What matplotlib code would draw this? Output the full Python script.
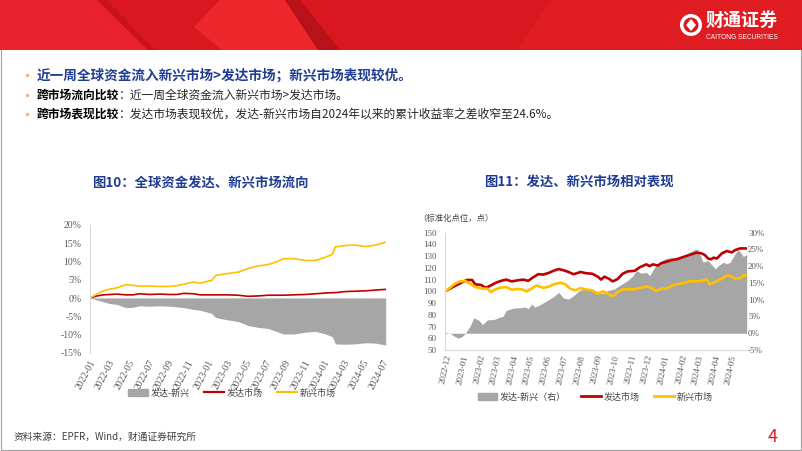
import matplotlib
matplotlib.use("Agg")
import matplotlib.pyplot as plt
import matplotlib.dates as mdates
import matplotlib.patches as mpatches
from matplotlib.lines import Line2D
from matplotlib.ticker import FuncFormatter
import pandas as pd

plt.rcParams['font.family'] = ['Noto Sans CJK SC', 'DejaVu Sans']

# ---- 图10: 全球资金发达、新兴市场流向 (累计流入, %) ----
flow_dates = pd.to_datetime([
    "2022-01-01", "2022-01-22", "2022-02-12", "2022-03-05", "2022-03-25", "2022-04-24",
    "2022-05-15", "2022-06-05", "2022-07-05", "2022-08-07", "2022-09-05", "2022-09-29",
    "2022-10-20", "2022-11-20", "2022-12-10", "2023-01-01", "2023-01-15", "2023-01-28",
    "2023-03-03", "2023-04-08", "2023-05-09", "2023-06-09", "2023-07-11", "2023-08-05",
    "2023-08-27", "2023-09-28", "2023-11-03", "2023-12-05", "2024-01-06", "2024-01-27",
    "2024-02-05", "2024-03-07", "2024-04-08", "2024-05-09", "2024-06-09", "2024-07-11",
])
flow_em = [0.0, 1.1, 2.0, 2.5, 2.8, 3.7, 3.5, 3.3, 3.3, 3.2, 3.2, 3.4,
           3.8, 4.4, 4.1, 4.6, 4.8, 6.2, 6.7, 7.1, 8.1, 8.8, 9.2, 9.9,
           10.8, 10.8, 10.3, 10.3, 11.2, 12.0, 14.0, 14.4, 14.5, 14.1, 14.5, 15.3]
flow_dm = [0.0, 0.6, 0.9, 1.0, 1.1, 0.9, 0.9, 1.2, 1.0, 1.1, 1.0, 1.0,
           1.3, 1.2, 0.9, 0.9, 0.9, 0.9, 0.9, 0.8, 0.5, 0.6, 0.8, 0.8,
           0.8, 0.9, 1.0, 1.2, 1.4, 1.5, 1.5, 1.8, 1.9, 2.0, 2.2, 2.4]
flow_diff = [0.0, -0.5, -1.0, -1.5, -1.7, -2.6, -2.5, -2.1, -2.2, -2.1, -2.2, -2.4,
             -2.6, -3.1, -3.3, -3.8, -4.2, -5.3, -5.9, -6.4, -7.5, -8.0, -8.3, -9.1,
             -9.8, -9.8, -9.3, -9.1, -9.8, -10.6, -12.5, -12.6, -12.5, -12.2, -12.3, -12.8]

# ---- 图11: 发达、新兴市场相对表现 ----
dm_dates = pd.to_datetime([
    "2022-12-01", "2022-12-13", "2022-12-25", "2023-01-04", "2023-01-10", "2023-01-19",
    "2023-01-25", "2023-02-04", "2023-02-13", "2023-02-22", "2023-03-04", "2023-03-13",
    "2023-03-22", "2023-04-01", "2023-04-13", "2023-04-22", "2023-05-01", "2023-05-10",
    "2023-05-19", "2023-05-28", "2023-06-07", "2023-06-16", "2023-06-25", "2023-07-04",
    "2023-07-13", "2023-07-22", "2023-08-04", "2023-08-13", "2023-08-25", "2023-09-04",
    "2023-09-10", "2023-09-16", "2023-09-25", "2023-10-01", "2023-10-10", "2023-10-19",
    "2023-10-28", "2023-11-10", "2023-11-19", "2023-12-01", "2023-12-07", "2023-12-13",
    "2023-12-22", "2023-12-28", "2024-01-07", "2024-01-16", "2024-01-25", "2024-02-04",
    "2024-02-13", "2024-02-22", "2024-03-01", "2024-03-10", "2024-03-16", "2024-03-22",
    "2024-03-27", "2024-04-01", "2024-04-07", "2024-04-16", "2024-04-25", "2024-05-04",
    "2024-05-10", "2024-05-19", "2024-05-31",
])
dm_index = [100, 103.1, 106, 108.5, 109.7, 109.7, 106, 105.5, 103, 105, 107.5, 109,
            110, 108.5, 109.5, 110, 109, 112, 114.6, 114.3, 115.7, 117.6, 119, 118,
            116.5, 114.6, 116.5, 115.5, 115, 112.5, 110, 112.5, 110.5, 108.5, 110.5, 115,
            117, 117.5, 120.5, 123, 121.5, 123, 122, 124, 125.3, 126.7, 127.3, 129,
            130.4, 131.8, 133, 132.4, 131, 128, 127.3, 128.7, 128, 132.4, 134.4, 133.2,
            135.2, 136.6, 136.6]

em_dates = pd.to_datetime([
    "2022-12-01", "2022-12-10", "2022-12-19", "2022-12-28", "2023-01-07", "2023-01-16",
    "2023-01-25", "2023-02-07", "2023-02-16", "2023-02-22", "2023-03-01", "2023-03-10",
    "2023-03-22", "2023-04-01", "2023-04-10", "2023-04-19", "2023-04-28", "2023-05-07",
    "2023-05-16", "2023-05-28", "2023-06-07", "2023-06-16", "2023-06-28", "2023-07-07",
    "2023-07-16", "2023-07-25", "2023-08-04", "2023-08-13", "2023-08-25", "2023-09-04",
    "2023-09-13", "2023-09-22", "2023-10-01", "2023-10-10", "2023-10-19", "2023-10-28",
    "2023-11-10", "2023-11-19", "2023-12-01", "2023-12-10", "2023-12-19", "2023-12-28",
    "2024-01-07", "2024-01-16", "2024-01-25", "2024-02-07", "2024-02-19", "2024-02-28",
    "2024-03-10", "2024-03-19", "2024-03-25", "2024-04-04", "2024-04-16", "2024-04-25",
    "2024-05-01", "2024-05-10", "2024-05-19", "2024-05-25", "2024-05-31",
])
em_index = [100, 103, 106.5, 108.5, 108.8, 106.5, 103.7, 102.3, 102.3, 99.4, 101.4, 103,
            103.7, 101.4, 102, 101.7, 100, 102.3, 105, 103, 104, 106, 107.4, 106,
            102.3, 100.8, 102.8, 101.7, 100.8, 98, 100, 98, 95.7, 99.4, 101.7, 101.7,
            101.7, 102.8, 104.3, 103, 100.3, 102.3, 102.3, 104.8, 106, 107, 108.8, 108.5,
            108.8, 110.2, 106, 108, 110.8, 113.4, 113.4, 110.8, 111, 113.6, 113.5]

gap_dates = pd.to_datetime([
    "2022-12-01", "2022-12-10", "2022-12-16", "2022-12-25", "2023-01-01", "2023-01-07",
    "2023-01-16", "2023-01-22", "2023-02-01", "2023-02-07", "2023-02-16", "2023-02-28",
    "2023-03-10", "2023-03-16", "2023-03-22", "2023-04-04", "2023-04-16", "2023-04-25",
    "2023-05-01", "2023-05-07", "2023-05-13", "2023-05-22", "2023-06-04", "2023-06-16",
    "2023-06-25", "2023-07-04", "2023-07-13", "2023-07-22", "2023-08-01", "2023-08-10",
    "2023-08-22", "2023-09-04", "2023-09-13", "2023-09-22", "2023-10-04", "2023-10-16",
    "2023-10-28", "2023-11-07", "2023-11-13", "2023-11-22", "2023-12-01", "2023-12-07",
    "2023-12-16", "2023-12-25", "2024-01-04", "2024-01-16", "2024-01-28", "2024-02-07",
    "2024-02-19", "2024-02-28", "2024-03-04", "2024-03-13", "2024-03-22", "2024-04-04",
    "2024-04-10", "2024-04-19", "2024-04-25", "2024-05-01", "2024-05-10", "2024-05-16",
    "2024-05-25", "2024-05-31",
])
gap_pct = [0.3, 0, -0.7, -1.5, -1.0, 0, 2.3, 4.6, 3.8, 2.6, 4.0, 4.1,
           4.8, 5.0, 6.8, 7.5, 7.6, 7.8, 7.3, 8.7, 7.8, 8.5, 9.7, 10.9,
           12.2, 10.5, 10.2, 11.2, 12.7, 13.2, 12.7, 12.2, 11.9, 12.7, 13.2, 14.5,
           15.7, 17.2, 18.7, 17.9, 18.2, 17.2, 19.7, 21.2, 22.2, 22.5, 22.2, 23.2,
           24.2, 25.1, 24.9, 21.2, 21.7, 19.2, 20.2, 21.2, 20.7, 21.2, 23.7, 24.9,
           22.9, 23.5]

RED = '#c00000'
YELLOW = '#ffc000'
GRAY = '#a6a6a6'
BLUE = '#1f3c93'
TICK = '#595959'
SPINE = '#d9d9d9'

W, H = 802, 451
fig = plt.figure(figsize=(W / 100, H / 100), dpi=100)

# background layer in pixel coordinates
bg = fig.add_axes([0, 0, 1, 1], zorder=-5)
bg.set_xlim(0, W)
bg.set_ylim(H, 0)
bg.axis('off')

banner = [
    ([(0, 0), (802, 0), (802, 50), (0, 50)], '#d9171e'),
    ([(0, 0), (97, 0), (148, 50), (0, 50)], '#e8222a'),
    ([(97, 0), (106, 0), (156, 50), (148, 50)], '#c91219'),
    ([(194, 27), (220, 0), (285, 0), (318, 50), (222, 50)], '#ee272c'),
    ([(285, 0), (300, 0), (340, 50), (318, 50)], '#b8111a'),
    ([(550, 0), (802, 0), (802, 50), (517, 50)], '#de1c22'),
]
for pts, c in banner:
    bg.add_patch(mpatches.Polygon(pts, closed=True, color=c, lw=0))

# logo
bg.add_patch(mpatches.Circle((691, 25), 11, color='white', lw=0))
bg.add_patch(mpatches.Circle((691, 25), 7.5, color='#d9171e', lw=0))
bg.add_patch(mpatches.Polygon([(691, 19), (696, 25), (691, 31), (686, 25)], color='white', lw=0))
bg.text(706, 20, "财通证券", color='white', fontsize=13, fontweight='bold', va='center', ha='left')
bg.text(706, 37.5, "CAITONG SECURITIES", color='white', fontsize=4.8, va='center', ha='left',
        family='Liberation Sans')

# slide frame
bg.plot([0.5, 0.5, 801, 801], [50, 450, 450, 50], color='#a0a0a0', lw=0.8)

# bullet lines
for yy in [75, 95, 114]:
    bg.plot(27, yy, 'o', ms=2.5, color='#f4b183', mec='none')
bg.text(37, 75, "近一周全球资金流入新兴市场>发达市场；新兴市场表现较优。", color=BLUE,
        fontsize=9.8, fontweight='bold', va='center', ha='left')

fig.canvas.draw()
renderer = fig.canvas.get_renderer()
inv = bg.transData.inverted()
for yy, head, rest in [
    (95, "跨市场流向比较", "：近一周全球资金流入新兴市场>发达市场。"),
    (114, "跨市场表现比较", "：发达市场表现较优，发达-新兴市场自2024年以来的累计收益率之差收窄至24.6%。"),
]:
    t = bg.text(37, yy, head, color='black', fontsize=8.5, fontweight='bold', va='center', ha='left')
    ext = t.get_window_extent(renderer)
    x_end = inv.transform((ext.x1, ext.y0))[0]
    bg.text(x_end, yy, rest, color='#262626', fontsize=8.5, va='center', ha='left')

# chart titles
bg.text(200, 183, "图10：全球资金发达、新兴市场流向", color=BLUE, fontsize=9.6,
        fontweight='bold', va='center', ha='center')
bg.text(579, 182, "图11：发达、新兴市场相对表现", color=BLUE, fontsize=9.6,
        fontweight='bold', va='center', ha='center')
bg.text(418, 218, "（标准化点位，点）", color='#404040', fontsize=6, va='center', ha='left')

# footer
bg.text(14, 437, "资料来源：EPFR，Wind，财通证券研究所", color='#404040', fontsize=7, va='center', ha='left')
bg.text(773, 437, "4", color='#e0161d', fontsize=13, va='center', ha='center')

pct = FuncFormatter(lambda v, p: f"{v:.0f}%")

# ---- left chart ----
ax1 = fig.add_axes([90 / W, 1 - 353 / H, 296 / W, 128 / H])
ax1.fill_between(flow_dates, flow_diff, 0, color=GRAY, lw=0)
ax1.plot(flow_dates, flow_dm, color=RED, lw=1.2)
ax1.plot(flow_dates, flow_em, color=YELLOW, lw=1.2)
ax1.set_ylim(-15, 20)
ax1.set_yticks(range(-15, 21, 5))
ax1.yaxis.set_major_formatter(pct)
ax1.set_xlim(pd.Timestamp("2022-01-01"), pd.Timestamp("2024-07-12"))
ax1.xaxis.set_major_locator(mdates.MonthLocator(bymonth=[1, 3, 5, 7, 9, 11]))
ax1.xaxis.set_major_formatter(mdates.DateFormatter('%Y-%m'))
for s in ['top', 'right', 'bottom']:
    ax1.spines[s].set_visible(False)
ax1.spines['left'].set_color(SPINE)
ax1.axhline(0, color=SPINE, lw=0.6, zorder=0.5)
ax1.tick_params(length=0, labelsize=7, labelcolor=TICK, labelfontfamily='Liberation Serif')
ax1.tick_params(axis='y', pad=6)
ax1.tick_params(axis='x', pad=4)
for lbl in ax1.get_xticklabels():
    lbl.set_rotation(62)
    lbl.set_ha('right')
    lbl.set_rotation_mode('anchor')
ax1.patch.set_visible(False)

fig.legend(handles=[mpatches.Patch(color=GRAY), Line2D([], [], color=RED, lw=1.6),
                    Line2D([], [], color=YELLOW, lw=1.6)],
           labels=['发达-新兴', '发达市场', '新兴市场'], ncol=3, frameon=False,
           loc='center', bbox_to_anchor=(232 / W, 1 - 393 / H), fontsize=6.5,
           handlelength=2.2, handletextpad=0.3, columnspacing=1.6, labelcolor='#404040')

# ---- right chart ----
ax2 = fig.add_axes([445 / W, 1 - 350 / H, 301.7 / W, 117.3 / H])
ax2r = ax2.twinx()
ax2r.fill_between(gap_dates, gap_pct, 0, color=GRAY, lw=0)
ax2r.set_ylim(-5, 30)
ax2r.set_yticks(range(-5, 31, 5))
ax2r.yaxis.set_major_formatter(pct)
ax2.plot(dm_dates, dm_index, color=RED, lw=1.9)
ax2.plot(em_dates, em_index, color=YELLOW, lw=1.9)
ax2.set_ylim(50, 150)
ax2.set_yticks(range(50, 151, 10))
ax2.set_xlim(pd.Timestamp("2022-12-01"), pd.Timestamp("2024-05-31"))
ax2.xaxis.set_major_locator(mdates.MonthLocator())
ax2.xaxis.set_major_formatter(mdates.DateFormatter('%Y-%m'))
ax2.set_zorder(ax2r.get_zorder() + 1)
ax2.patch.set_visible(False)
ax2r.patch.set_visible(False)
for s in ['top', 'right']:
    ax2.spines[s].set_visible(False)
for s in ax2r.spines.values():
    s.set_visible(False)
ax2.spines['left'].set_color(SPINE)
ax2.spines['bottom'].set_color(SPINE)
ax2.tick_params(length=0, labelsize=6.5, labelcolor=TICK, labelfontfamily='Liberation Serif')
ax2.tick_params(axis='y', pad=6)
ax2.tick_params(axis='x', pad=3)
ax2r.tick_params(length=0, labelsize=6.5, labelcolor=TICK, labelfontfamily='Liberation Serif', pad=1)
for lbl in ax2.get_xticklabels():
    lbl.set_rotation(78)
    lbl.set_ha('right')
    lbl.set_rotation_mode('anchor')

fig.legend(handles=[mpatches.Patch(color=GRAY), Line2D([], [], color=RED, lw=2),
                    Line2D([], [], color=YELLOW, lw=2)],
           labels=['发达-新兴（右）', '发达市场', '新兴市场'], ncol=3, frameon=False,
           loc='center', bbox_to_anchor=(595 / W, 1 - 397 / H), fontsize=6.5,
           handlelength=2.2, handletextpad=0.3, columnspacing=1.6, labelcolor='#404040')

fig.savefig("out.png", dpi=100)
